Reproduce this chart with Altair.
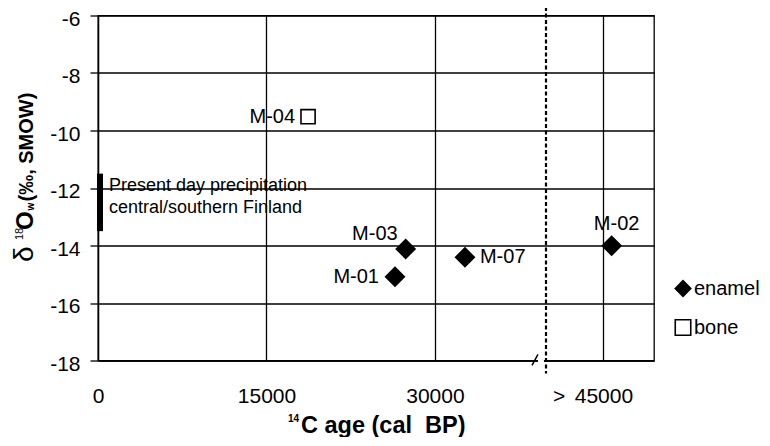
import altair as alt
import pandas as pd

# ---- data ----
samples = ["M-01", "M-02", "M-03", "M-04", "M-07"]
ages = [26440, 45730, 27390, 18700, 32670]
d18o = [-15.09, -14.01, -14.12, -9.52, -14.41]
materials = ["enamel", "enamel", "enamel", "bone", "enamel"]

material_order = ["enamel", "bone"]
x_ticks = [0, 15000, 30000, 45000]
y_ticks = [-18, -16, -14, -12, -10, -8, -6]

present_age = [180]
present_top = [-11.5]
present_bottom = [-13.5]
present_lines = ["Present day precipitation", "central/southern Finland"]
present_line_d18o = [-11.93, -12.70]
present_text_age = [980, 980]

cut_age = [39885]
cut_top = [-5.7]
cut_bottom = [-18.45]
gap_from = [39170]
gap_to = [39700]
slash_from = [38640]
slash_to = [39170]
slash_low = [-18.17]
slash_high = [-17.79]

X0, X1 = 0, 49500
Y0, Y1 = -18, -6

df = pd.DataFrame({"sample": samples, "age": ages, "d18o": d18o, "material": materials})

xs = alt.Scale(domain=[X0, X1], nice=False, zero=False)
ys = alt.Scale(domain=[Y0, Y1], nice=False, zero=False)

FONT = "Liberation Sans"

x_axis = alt.Axis(
    values=x_ticks, title=None, grid=True, gridColor="black", gridWidth=1.3,
    ticks=False, tickSize=0, domainColor="black", domainWidth=1.3,
    labelFont=FONT, labelFontSize=21, labelColor="black", labelPadding=25,
    labelExpr="toString(datum.value)",
    labelFlush=False, labelOverlap=False,
)
y_axis = alt.Axis(
    values=y_ticks, title=None, grid=True, gridColor="black", gridWidth=1.3,
    ticks=True, tickSize=8, tickColor="black", tickWidth=1.3,
    domainColor="black", domainWidth=1.3,
    labelFont=FONT, labelFontSize=21, labelColor="black", labelPadding=10, labelOffset=3.5,
    labelExpr="toString(datum.value)", labelOverlap=False, labelFlush=False,
)

shape_enc = alt.Shape("material:N", scale=alt.Scale(domain=material_order, range=["diamond", "square"]),
                      legend=alt.Legend(title=None))
fill_enc = alt.Fill("material:N", scale=alt.Scale(domain=material_order, range=["black", "white"]),
                    legend=alt.Legend(title=None))
stroke_enc = alt.Stroke("material:N", scale=alt.Scale(domain=material_order, range=["black", "black"]),
                        legend=alt.Legend(title=None))


def pts(kind, size):
    return alt.Chart(df).transform_filter(alt.datum.material == kind).mark_point(
        filled=True, strokeWidth=1.6, opacity=1, size=size
    ).encode(
        x=alt.X("age:Q", scale=xs, axis=x_axis),
        y=alt.Y("d18o:Q", scale=ys, axis=y_axis),
        shape=shape_enc,
        fill=fill_enc,
        stroke=stroke_enc,
    )


points = [pts("enamel", 350), pts("bone", 200)]


def label(name, align, dx, dy):
    return alt.Chart(df).transform_filter(alt.datum.sample == name).mark_text(
        align=align, baseline="middle", dx=dx, dy=dy, font=FONT, fontSize=20, color="black"
    ).encode(
        x=alt.X("age:Q", scale=xs, axis=x_axis),
        y=alt.Y("d18o:Q", scale=ys, axis=y_axis),
        text="sample:N",
    )


labels = [
    label("M-01", "right", -16, 0),
    label("M-02", "center", 5, -22),
    label("M-03", "right", -8, -15),
    label("M-04", "right", -13, 0),
    label("M-07", "left", 15, 0),
]

present_df = pd.DataFrame({"age": present_age, "top": present_top, "bottom": present_bottom})
present_bar = alt.Chart(present_df).mark_rule(color="black", strokeWidth=6, strokeCap="butt").encode(
    x=alt.X("age:Q", scale=xs, axis=x_axis),
    y=alt.Y("top:Q", scale=ys, axis=y_axis),
    y2="bottom:Q",
)
present_txt_df = pd.DataFrame({"age": present_text_age, "d18o": present_line_d18o, "t": present_lines})
present_txt = alt.Chart(present_txt_df).mark_text(
    align="left", baseline="middle", font=FONT, fontSize=18, color="black"
).encode(
    x=alt.X("age:Q", scale=xs, axis=x_axis),
    y=alt.Y("d18o:Q", scale=ys, axis=y_axis),
    text="t:N",
)

cut_df = pd.DataFrame({"age": cut_age, "top": cut_top, "bottom": cut_bottom})
cut = alt.Chart(cut_df).mark_rule(color="black", strokeWidth=2.2, strokeDash=[4, 2.5]).encode(
    x=alt.X("age:Q", scale=xs, axis=x_axis),
    y=alt.Y("top:Q", scale=ys, axis=y_axis),
    y2="bottom:Q",
)
gap_df = pd.DataFrame({"a": gap_from, "b": gap_to, "y": [Y0]})
gap = alt.Chart(gap_df).mark_rule(color="white", strokeWidth=4).encode(
    x=alt.X("a:Q", scale=xs, axis=x_axis), x2="b:Q",
    y=alt.Y("y:Q", scale=ys, axis=y_axis),
)
slash_df = pd.DataFrame({"a": slash_from, "b": slash_to, "lo": slash_low, "hi": slash_high})
slash = alt.Chart(slash_df).mark_rule(color="black", strokeWidth=1.5).encode(
    x=alt.X("a:Q", scale=xs, axis=x_axis), x2="b:Q",
    y=alt.Y("lo:Q", scale=ys, axis=y_axis), y2="hi:Q",
)


# ---- axis titles built from pieces (mixed weights / super- and subscripts) ----
def piece(text, x, y, size, weight="normal", angle=0):
    return alt.Chart(pd.DataFrame({"t": [text]})).mark_text(
        align="left", baseline="alphabetic", font=FONT, fontSize=size, fontWeight=weight,
        angle=angle, color="black"
    ).encode(x=alt.value(x), y=alt.value(y), text="t:N")


titles = [
    piece("\u03b4", -65, 246.5, 28, "normal", 270),
    piece("18", -75, 224.5, 11, "normal", 270),
    piece("O", -65, 214.5, 24, "bold", 270),
    piece("w", -64, 195, 10, "bold", 270),
    piece("(\u2030, SMOW)", -65, 186, 20, "bold", 270),
    piece("14", 190, 406.5, 10, "bold"),
    piece("C age (cal\u00a0 BP)", 203, 417.5, 23.5, "bold"),
    piece(">", 455, 387.5, 21, "normal"),
]

chart = alt.layer(*points, *labels, present_bar, present_txt, gap, slash, cut, *titles).properties(
    width=556, height=345,
    background="white",
    autosize=alt.AutoSizeParams(type="none"),
    padding={"left": 90, "top": 7.5, "right": 108, "bottom": 76},
).configure_view(
    stroke="black", strokeWidth=1.3
).configure_legend(
    orient="none", legendX=575, legendY=263, padding=0,
    labelFont=FONT, labelFontSize=20, labelColor="black", labelOffset=1,
    symbolSize=240, symbolStrokeColor="black", symbolStrokeWidth=1.6,
    rowPadding=17,
)

chart.save("out.html", embed_options={"renderer": "svg", "actions": False})
